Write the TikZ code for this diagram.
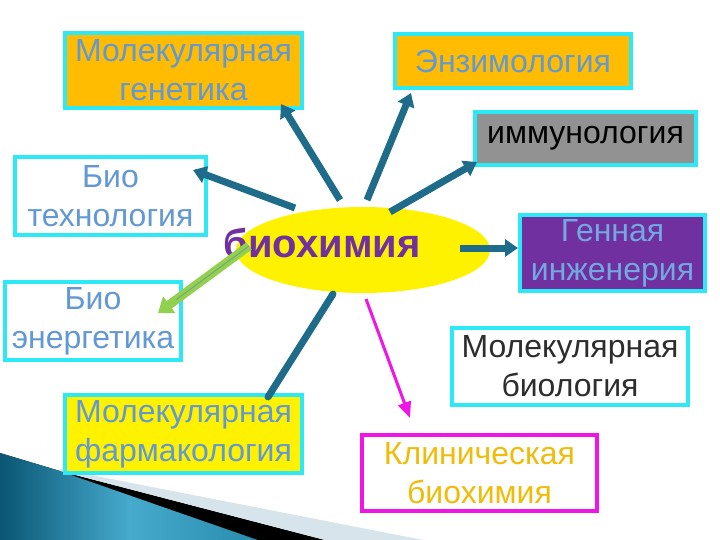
\documentclass[tikz,border=0pt]{standalone}
\usepackage{fontspec}
\setmainfont{Liberation Sans}
\usetikzlibrary{arrows.meta,shapes.geometric,calc}
\definecolor{cy}{RGB}{45,232,245}
\definecolor{org}{RGB}{255,188,0}
\definecolor{txtb}{RGB}{98,152,212}
\definecolor{tealc}{RGB}{30,108,138}
\definecolor{purp}{RGB}{112,48,160}
\definecolor{grayf}{RGB}{146,146,146}
\definecolor{greenc}{RGB}{146,208,80}
\definecolor{greenl}{RGB}{120,165,120}
\definecolor{magc}{RGB}{240,20,230}
\definecolor{goldt}{RGB}{240,188,10}
\definecolor{lbt}{RGB}{115,168,225}
\definecolor{darkt}{RGB}{45,45,45}
\definecolor{swa}{RGB}{10,85,115}
\definecolor{swb}{RGB}{70,170,205}
\definecolor{swc}{RGB}{40,140,175}
\definecolor{swg}{RGB}{215,228,236}
\tikzset{
  box/.style={draw=cy, line width=4pt, rectangle, align=center, inner sep=2pt,
    font=\fontsize{32}{39}\selectfont, text=txtb},
  tarrow/.style={draw=tealc, line width=7pt, -{Triangle[width=17pt,length=13pt]}},
  tline/.style={draw=tealc, line width=7pt, line cap=round},
  garrow/.style={draw=greenc, line width=9pt, -{Triangle[width=20pt,length=14pt]}},
  marrow/.style={draw=magc, line width=3pt, -{Triangle[width=13pt,length=16pt]}}
}
\begin{document}
\begin{tikzpicture}[x=1pt,y=-1pt]
\useasboundingbox (0,0) rectangle (720,540);
\fill[white] (0,0) rectangle (720,540);
% bottom-left decoration
\fill[left color=swa, right color=swc, middle color=swb]
  (0,453) -- (60,471) -- (258,540) -- (0,540) -- cycle;
\fill[black] (60,471) -- (325,540) -- (258,540) -- cycle;
\fill[swg] (60,469) -- (423,540) -- (325,540) -- (60,471) -- cycle;

% central ellipse
\node[ellipse, fill=yellow, minimum width=254pt, minimum height=86pt, inner sep=0pt] (ell) at (363,250) {};

% boxes
\node[box, fill=org, minimum width=237pt, minimum height=75pt] (mg) at (183.5,70.5) {Молекулярная\\генетика};
\node[box, fill=org, minimum width=236pt, minimum height=54pt] (enz) at (513,61) {Энзимология};
\node[box, fill=grayf, text=black, minimum width=221pt, minimum height=53pt] (imm) at (585.5,138.5) {\raisebox{-3pt}{иммунология}};
\node[box, fill=white, minimum width=191pt, minimum height=78pt] (bt) at (110.5,196) {Био\\технология};
\node[box, fill=white, minimum width=176pt, minimum height=78pt] (be) at (93,321) {Био\\энергетика};
\node[box, fill=yellow, minimum width=237pt, minimum height=78pt] (mf) at (183.5,434) {Молекулярная\\фармакология};
\node[box, fill=purp, text=lbt, minimum width=185pt, minimum height=76pt] (gi) at (612.5,253) {Генная\\инженерия};
\node[box, fill=white, text=darkt, minimum width=236pt, minimum height=77pt] (mb) at (570,366.5) {Молекулярная\\биология};
\node[box, draw=magc, fill=white, text=goldt, minimum width=235pt, minimum height=76pt] (kb) at (479.5,473) {Клиническая\\биохимия};

% connector end points
\coordinate (s1) at (340,200); \coordinate (e1) at (281,104);
\coordinate (s2) at (367,200); \coordinate (e2) at (411,93);
\coordinate (s3) at (390,212); \coordinate (e3) at (477,162);
\coordinate (s4) at (295,208); \coordinate (e4) at (193,170);
\coordinate (s5) at (249,246); \coordinate (e5) at (158,313);
\coordinate (s6) at (333,294); \coordinate (e6) at (268,397);
\coordinate (s7) at (366,299); \coordinate (e7) at (410,418);
\coordinate (s8) at (460,248); \coordinate (e8) at (518,248);

\draw[tarrow] (s1) -- (e1);
\draw[tarrow] (s2) -- (e2);
\draw[tarrow] (s3) -- (e3);
\draw[tarrow] (s4) -- (e4);
\draw[tline] (s6) -- (e6);
\draw[marrow] (s7) -- (e7);
\draw[tarrow] (s8) -- (e8);

% central label
\node[text=purp, font=\fontsize{40}{42}\selectfont\bfseries] (bio) at (322,243) {биохимия};

\draw[garrow] (s5) -- (e5);
\draw[draw=greenl, line width=1pt] (s5) -- ($(s5)!0.8!(e5)$);
\end{tikzpicture}
\end{document}
